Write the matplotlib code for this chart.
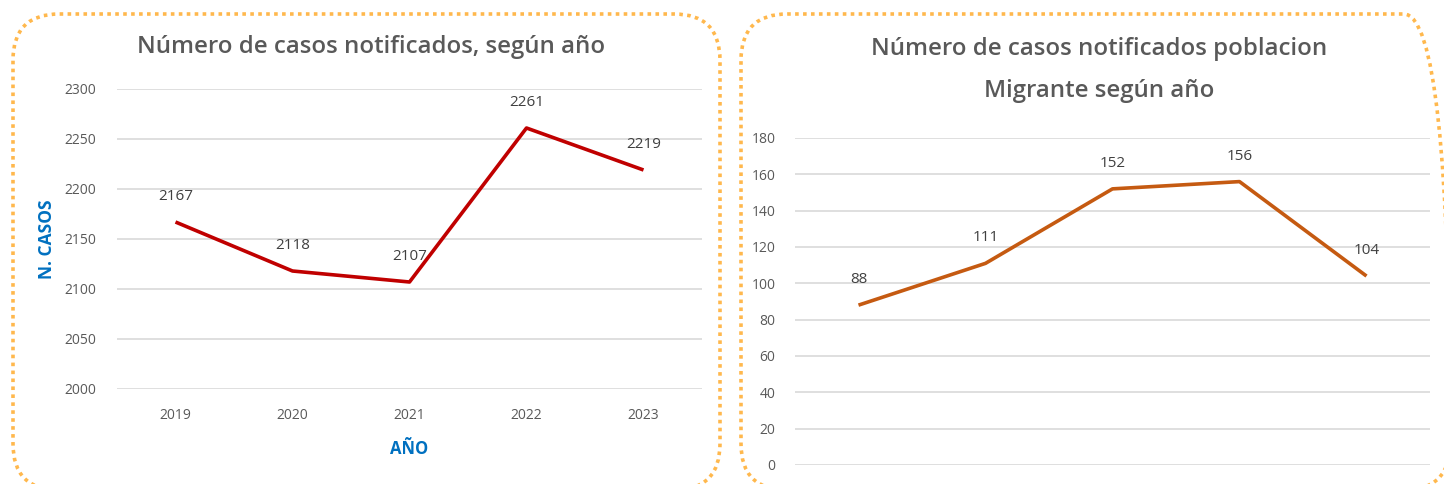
import matplotlib.pyplot as plt
from matplotlib.patches import FancyBboxPatch

years = ["2019", "2020", "2021", "2022", "2023"]
casos_total = [2167, 2118, 2107, 2261, 2219]
casos_migrante = [88, 111, 152, 156, 104]

W, H = 1444, 484
plt.rcParams['font.family'] = ['Open Sans', 'DejaVu Sans']

fig = plt.figure(figsize=(W / 100, H / 100), dpi=100)

def px_box(x0, y0, x1, y1):
    # pixel coords (top-left origin) -> figure fraction rect
    return [x0 / W, 1 - y1 / H, (x1 - x0) / W, (y1 - y0) / H]

# dotted rounded frames
for x0, x1 in [(13, 720), (741, 1450)]:
    box = FancyBboxPatch((x0 / W, 1 - 490 / H), (x1 - x0) / W, (490 - 14) / H,
                         boxstyle="round,pad=0,rounding_size=0.032",
                         transform=fig.transFigure, fill=False,
                         edgecolor="#FFB84D", linewidth=2.6, linestyle=(0, (1, 1.2)),
                         mutation_aspect=W / H)
    fig.patches.append(box)

grid_c = "#D9D9D9"
text_c = "#595959"

def style(ax):
    for s in ax.spines.values():
        s.set_visible(False)
    ax.tick_params(length=0, labelsize=10, labelcolor=text_c)
    ax.grid(axis="y", color=grid_c, linewidth=1.2)
    ax.set_axisbelow(True)

# left chart
ax1 = fig.add_axes(px_box(117, 89, 702, 389))
x = range(len(years))
ax1.plot(x, casos_total, color="#C00000", linewidth=2.6, solid_capstyle="butt")
ax1.set_xlim(-0.5, 4.5)
ax1.set_ylim(2000, 2300)
ax1.set_yticks(range(2000, 2301, 50))
ax1.set_xticks(list(x))
ax1.set_xticklabels(years)
style(ax1)
ax1.tick_params(axis="x", pad=14)
ax1.tick_params(axis="y", pad=15)
for i, v in enumerate(casos_total):
    ax1.annotate(str(v), (i, v), xytext=(0, 13), textcoords="offset points",
                 ha="center", va="bottom", fontsize=11, color="#404040")
ax1.set_xlabel("AÑO", color="#0070C0", fontweight="bold", fontsize=12, labelpad=12)
ax1.set_ylabel("N. CASOS", color="#0070C0", fontweight="bold", fontsize=12.5, labelpad=6)
fig.text(371 / W, 1 - 47 / H, "Número de casos notificados, según año",
         ha="center", va="center", fontsize=17.3, fontweight="semibold", color=text_c)

# right chart
ax2 = fig.add_axes(px_box(795, 138, 1430, 465))
ax2.plot(x, casos_migrante, color="#C55A11", linewidth=2.6, solid_capstyle="butt")
ax2.set_xlim(-0.5, 4.5)
ax2.set_ylim(0, 180)
ax2.set_yticks(range(0, 181, 20))
ax2.set_xticks([])
style(ax2)
ax2.tick_params(axis="y", pad=14)
for i, v in enumerate(casos_migrante):
    ax2.annotate(str(v), (i, v), xytext=(0, 13), textcoords="offset points",
                 ha="center", va="bottom", fontsize=11, color="#404040")
fig.text(1099 / W, 1 - 70 / H, "Número de casos notificados poblacion\nMigrante según año",
         ha="center", va="center", fontsize=17.3, fontweight="semibold", color=text_c,
         linespacing=1.98)

fig.savefig("out.png", dpi=100, facecolor="white")
